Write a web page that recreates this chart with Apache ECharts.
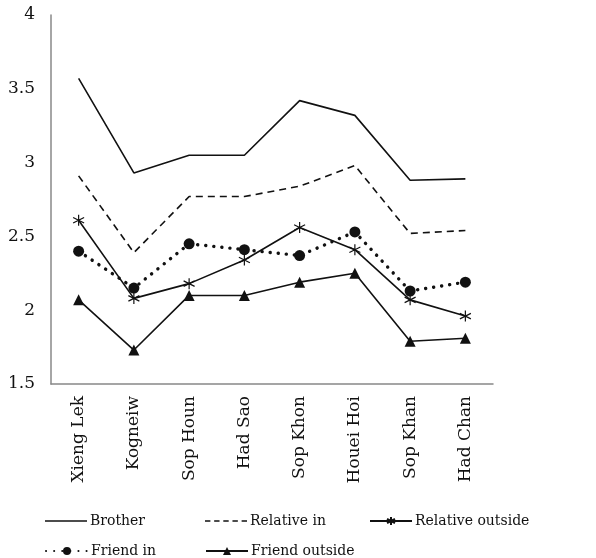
<!DOCTYPE html>
<html><head><meta charset="utf-8">
<script src="https://cdn.jsdelivr.net/npm/echarts@6/dist/echarts.min.js"></script>
<style>html,body{margin:0;padding:0;background:#fff}#c{width:596px;height:558px}</style>
</head><body><div id="c"></div>
<script>
const categories = ['Xieng Lek','Kogneiw','Sop Houn','Had Sao','Sop Khon','Houei Hoi','Sop Khan','Had Chan'];
const brother = [3.57, 2.93, 3.05, 3.05, 3.42, 3.32, 2.88, 2.89];
const relativeIn = [2.91, 2.39, 2.77, 2.77, 2.84, 2.98, 2.52, 2.54];
const relativeOutside = [2.61, 2.08, 2.18, 2.34, 2.56, 2.41, 2.07, 1.96];
const friendIn = [2.40, 2.15, 2.45, 2.41, 2.37, 2.53, 2.13, 2.19];
const friendOutside = [2.07, 1.73, 2.10, 2.10, 2.19, 2.25, 1.79, 1.81];
const yTicks = [1.5, 2, 2.5, 3, 3.5, 4];

const FONT = 'DejaVu Serif';
const star = 'path://M0,-5L0,5M-4.33,-2.5L4.33,2.5M-4.33,2.5L4.33,-2.5';
const dashIcon = 'path://M0,0h5v1h-5zM8.5,0h5v1h-5zM17,0h5v1h-5zM25.5,0h5v1h-5zM34,0h5v1h-5z';
const chart = echarts.init(document.getElementById('c'));
function leg(item, left, top, extra){
  return Object.assign({data:[item], left:left, top:top, orient:'horizontal', itemWidth:42, itemHeight:10, itemGap:4,
    textStyle:{fontFamily:FONT,fontSize:14,color:'#111', padding:[0,0,0,-2]}}, extra||{});
}
chart.setOption({
  animation:false,
  textStyle:{fontFamily:FONT},
  grid:{left:51, top:15, right:103, bottom:174, containLabel:false},
  legend:[
    leg({name:'Brother', icon:'rect', itemStyle:{color:'#111'}}, 40, 509, {itemHeight:1.6, symbolKeepAspect:false}),
    leg({name:'Relative in', icon:dashIcon, itemStyle:{color:'#111'}}, 200, 509, {itemHeight:1.6, symbolKeepAspect:false}),
    leg('Relative outside', 364, 509),
    leg('Friend in', 40, 539),
    leg('Friend outside', 200, 539)
  ],
  xAxis:{type:'category', data:categories, boundaryGap:true,
    axisLine:{lineStyle:{color:'#888', width:1.5}}, axisTick:{show:false},
    axisLabel:{rotate:90, fontFamily:FONT, fontSize:17, color:'#111', margin:12}},
  yAxis:{type:'value', min:1.5, max:4, interval:0.5,
    axisLine:{show:true, lineStyle:{color:'#888', width:1.5}}, axisTick:{show:false}, splitLine:{show:false},
    axisLabel:{fontFamily:FONT, fontSize:17, color:'#111', margin:16, formatter: v => String(v)}},
  series:[
    {name:'Brother', type:'line', data:brother, symbol:'none', lineStyle:{color:'#111', width:1.6}, itemStyle:{color:'#111'}},
    {name:'Relative in', type:'line', data:relativeIn, symbol:'none', lineStyle:{color:'#111', width:1.6, type:[7,5]}, itemStyle:{color:'#111'}},
    {name:'Relative outside', type:'line', data:relativeOutside, symbol:star, symbolSize:11, lineStyle:{color:'#111', width:1.6}, itemStyle:{color:'#111', borderColor:'#111', borderWidth:1.2}},
    {name:'Friend in', type:'line', data:friendIn, symbol:'circle', symbolSize:11, lineStyle:{color:'#111', width:3.4, type:[0.1,8], cap:'round'}, itemStyle:{color:'#111'}},
    {name:'Friend outside', type:'line', data:friendOutside, symbol:'triangle', symbolSize:11, lineStyle:{color:'#111', width:1.6}, itemStyle:{color:'#111'}}
  ]
});
</script></body></html>
